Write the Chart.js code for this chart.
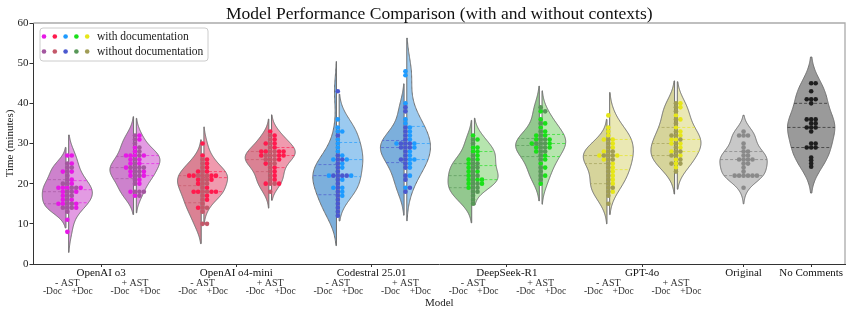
<!DOCTYPE html>
<html>
<head>
<meta charset="utf-8">
<script src="https://cdn.jsdelivr.net/npm/chart.js@4.4.1/dist/chart.umd.min.js"></script>
<style>
  html, body { margin: 0; padding: 0; background: #fff; }
  canvas { display: block; }
</style>
</head>
<body>
<canvas id="chart" width="851" height="314"></canvas>
<script>
// ---- data (minutes) ----
const models = ['OpenAI o3', 'OpenAI o4-mini', 'Codestral 25.01', 'DeepSeek-R1', 'GPT-4o'];
const astLabels = ['- AST', '+ AST'];
const docLabels = ['-Doc', '+Doc'];
const baselines = ['Original', 'No Comments'];
const yTicks = [0, 10, 20, 30, 40, 50, 60];

// without AST, without / with documentation (one entry per model)
const noAstNoDoc = [
  [25,24,24,23,22,21,20,20,19,19,18,18,17,17,16,15,15,14,14,14,13],
  [26,25,24,23,22,22,22,21,21,20,20,19,18,18,17,16,15,14,14,13,10,10],
  [43,32,27,26,26,25,24,23,22,22,22,22,21,20,19,18,17,16,15,14,13,12],
  [31,30,27,26,25,25,24,24,23,22,22,21,20,20,19,19,18,18,17,16,15],
  [31,30,29,28,28,27,27,27,26,26,25,24,23,22,21,20,19,19,18,17,15]
];
const noAstDoc = [
  [27,27,25,23,23,21,20,19,19,19,19,18,18,17,16,16,15,15,15,14,11,8],
  [30,27,26,25,24,23,23,22,22,22,22,21,21,20,19,18,18,18,18,17,16,14],
  [36,34,33,33,31,30,29,28,27,26,26,25,24,22,22,21,19,19,18,17],
  [32,31,29,29,28,28,27,26,26,25,24,23,23,22,21,21,21,20,20,19],
  [37,34,33,32,31,31,30,29,28,27,27,26,25,24,23,22,21,20,18]
];
// with AST, without / with documentation
const astNoDoc = [
  [32,31,30,29,28,27,26,25,24,24,24,24,23,23,22,22,21,20,18,18,18,17],
  [32,31,30,29,28,28,27,27,27,26,26,26,25,25,24,23,22,21,20,20,18],
  [39,38,34,33,32,31,30,30,30,29,29,29,28,27,26,26,25,24,22,21,19,18],
  [39,38,35,33,32,31,31,30,30,30,29,29,28,28,27,26,24,23,22,21],
  [40,39,38,36,35,33,32,32,31,30,29,28,28,27,27,26,25,25,23]
];
const astDoc = [
  [32,31,29,28,27,27,27,27,26,26,25,25,24,23,23,22,22,21,20,18,17],
  [33,32,31,30,30,29,28,28,28,28,27,27,27,26,25,24,23,22,21,20,20],
  [48,47,40,36,35,34,33,32,31,30,30,29,28,27,26,26,25,24,22,19],
  [38,36,35,34,33,32,32,31,31,30,30,29,29,28,27,26,25,24,22,20],
  [40,39,37,36,34,33,32,31,31,30,30,29,28,27,26,25,24]
];
const originalTimes = [33,32,32,32,30,29,28,28,27,27,26,26,26,26,25,25,24,23,22,22,22,22,22,22,19];
const noCommentsTimes = [45,45,43,41,41,41,40,36,36,36,35,35,34,34,34,33,30,30,29,29,29,26.5,25.8,25,24.2];

// ---- styles ----
const withColors = ['#e619e6', '#ff1a4d', '#1e9bff', '#19e019', '#e6e619'];
const withoutColors = ['#a3569f', '#c4586a', '#4a58cf', '#579757', '#a09c55'];
const leftFills = ['#cd82cd', '#da8294', '#7cafdc', '#93c88f', '#d6d49b'];
const rightFills = ['#e39be3', '#f09aae', '#9bcaf0', '#b6e5ae', '#eae8b4'];
const SERIF = '"Liberation Serif", "DejaVu Serif", serif';
const HALF_W = 0.35;   // max violin half width (x units)
const GAP = 0.02;      // gap between split halves
const DOT = 0.066;     // swarm spacing (x units)

// ---- violin specs ----
const violins = [];
const groups = []; // for swarm: {pos, parts:[{vals,color}]}
models.forEach((m, i) => {
  [[noAstNoDoc[i], noAstDoc[i]], [astNoDoc[i], astDoc[i]]].forEach((pair, j) => {
    const pos = 2 * i + j;
    violins.push({ pos, vals: pair[0], dir: -1, fill: leftFills[i], q: withoutColors[i] });
    violins.push({ pos, vals: pair[1], dir: 1, fill: rightFills[i], q: withColors[i] });
    groups.push({ pos, parts: [{ vals: pair[0], color: withoutColors[i] }, { vals: pair[1], color: withColors[i] }] });
  });
});
violins.push({ pos: 10, vals: originalTimes, dir: 0, fill: '#c8c8c8', q: '#7a7a7a' });
violins.push({ pos: 11, vals: noCommentsTimes, dir: 0, fill: '#9a9a9a', q: '#222222' });
groups.push({ pos: 10, parts: [{ vals: originalTimes, color: '#8a8a8a' }] });
groups.push({ pos: 11, parts: [{ vals: noCommentsTimes, color: '#1e1e1e' }] });

// ---- swarm layout ----
function swarm(group) {
  const rows = {};
  const maxLen = Math.max(...group.parts.map(p => p.vals.length));
  for (let k = 0; k < maxLen; k++) {
    group.parts.forEach((p, pi) => {
      if (k < p.vals.length) {
        const key = Math.round(p.vals[k]);
        (rows[key] = rows[key] || []).push({ v: p.vals[k], pi });
      }
    });
  }
  const out = group.parts.map(() => []);
  Object.values(rows).forEach(row => {
    row.forEach((pt, k) => {
      const off = k === 0 ? 0 : (k % 2 ? 1 : -1) * Math.ceil(k / 2) * DOT;
      out[pt.pi].push({ x: group.pos + off, y: pt.v });
    });
  });
  return out;
}

const datasets = [];
groups.forEach(g => {
  const pts = swarm(g);
  g.parts.forEach((p, pi) => {
    datasets.push({
      data: pts[pi],
      backgroundColor: p.color,
      borderWidth: 0,
      pointRadius: 2.3,
      pointHoverRadius: 2.3
    });
  });
});

// ---- kde helpers ----
function kde(vals) {
  const n = vals.length;
  const mean = vals.reduce((a, b) => a + b, 0) / n;
  const sd = Math.sqrt(vals.reduce((a, b) => a + (b - mean) ** 2, 0) / (n - 1));
  const bw = sd * Math.pow(n, -0.2);
  const lo = Math.min(...vals) - 2 * bw, hi = Math.max(...vals) + 2 * bw;
  const dens = t => vals.reduce((s, v) => s + Math.exp(-0.5 * ((t - v) / bw) ** 2), 0);
  const ys = [], ds = [];
  for (let k = 0; k <= 150; k++) {
    const t = lo + (hi - lo) * k / 150;
    ys.push(t); ds.push(dens(t));
  }
  return { ys, ds, max: Math.max(...ds), dens };
}
function quantile(vals, p) {
  const s = [...vals].sort((a, b) => a - b);
  const idx = (s.length - 1) * p, lo = Math.floor(idx), hi = Math.ceil(idx);
  return s[lo] + (s[hi] - s[lo]) * (idx - lo);
}

const violinPlugin = {
  id: 'violins',
  beforeDatasetsDraw(chart) {
    const { ctx, scales: { x, y } } = chart;
    ctx.save();
    violins.forEach(vl => {
      const k = kde(vl.vals);
      const w = d => d / k.max * HALF_W;
      ctx.beginPath();
      if (vl.dir === 0) {
        k.ys.forEach((t, i) => ctx.lineTo(x.getPixelForValue(vl.pos + w(k.ds[i])), y.getPixelForValue(t)));
        for (let i = k.ys.length - 1; i >= 0; i--) ctx.lineTo(x.getPixelForValue(vl.pos - w(k.ds[i])), y.getPixelForValue(k.ys[i]));
      } else {
        const base = vl.pos + vl.dir * GAP;
        ctx.moveTo(x.getPixelForValue(base), y.getPixelForValue(k.ys[0]));
        k.ys.forEach((t, i) => ctx.lineTo(x.getPixelForValue(base + vl.dir * w(k.ds[i])), y.getPixelForValue(t)));
        ctx.lineTo(x.getPixelForValue(base), y.getPixelForValue(k.ys[k.ys.length - 1]));
      }
      ctx.closePath();
      ctx.fillStyle = vl.fill;
      ctx.fill();
      ctx.lineWidth = 1;
      ctx.strokeStyle = '#6e6e6e';
      ctx.stroke();
      // quartile lines
      ctx.setLineDash([3, 2]);
      ctx.strokeStyle = vl.q;
      ctx.globalAlpha = 0.65;
      [0.25, 0.5, 0.75].forEach(p => {
        const q = quantile(vl.vals, p);
        const ww = w(k.dens(q));
        const py = y.getPixelForValue(q);
        ctx.beginPath();
        if (vl.dir === 0) {
          ctx.moveTo(x.getPixelForValue(vl.pos - ww), py);
          ctx.lineTo(x.getPixelForValue(vl.pos + ww), py);
        } else {
          const base = vl.pos + vl.dir * GAP;
          ctx.moveTo(x.getPixelForValue(base), py);
          ctx.lineTo(x.getPixelForValue(base + vl.dir * ww), py);
        }
        ctx.stroke();
      });
      ctx.setLineDash([]);
      ctx.globalAlpha = 1;
    });
    ctx.restore();
  }
};

const textPlugin = {
  id: 'texts',
  afterDraw(chart) {
    const { ctx, chartArea: a, scales: { x } } = chart;
    ctx.save();
    // frame top/right
    ctx.strokeStyle = '#aaaaaa';
    ctx.lineWidth = 1.3;
    ctx.beginPath();
    ctx.moveTo(a.left, a.top); ctx.lineTo(a.right, a.top); ctx.lineTo(a.right, a.bottom);
    ctx.stroke();
    ctx.fillStyle = '#111';
    ctx.textAlign = 'center';
    // title
    ctx.font = '17.5px ' + SERIF;
    ctx.textBaseline = 'alphabetic';
    ctx.fillText('Model Performance Comparison (with and without contexts)', (a.left + a.right) / 2, 18.5);
    ctx.textBaseline = 'middle';
    // x labels
    ctx.font = '11px ' + SERIF;
    models.forEach((m, i) => ctx.fillText(m, x.getPixelForValue(2 * i + 0.5), 273));
    baselines.forEach((m, i) => ctx.fillText(m, x.getPixelForValue(10 + i), 273));
    ctx.fillStyle = '#333';
    models.forEach((m, i) => {
      astLabels.forEach((s, j) => {
        const p = 2 * i + j;
        ctx.font = '10px ' + SERIF;
        ctx.fillText(s, x.getPixelForValue(p), 283);
        ctx.font = '9.5px ' + SERIF;
        docLabels.forEach((d, k) => ctx.fillText(d, x.getPixelForValue(p + (k ? 0.22 : -0.22)), 291.5));
      });
    });
    ctx.fillStyle = '#222';
    ctx.font = '11px ' + SERIF;
    ctx.fillText('Model', (a.left + a.right) / 2, 303);
    // y title
    ctx.save();
    ctx.translate(10.5, (a.top + a.bottom) / 2);
    ctx.rotate(-Math.PI / 2);
    ctx.fillText('Time (minutes)', 0, 0);
    ctx.restore();
    // legend
    const lx = 40, ly = 28;
    ctx.fillStyle = 'rgba(255,255,255,0.85)';
    ctx.strokeStyle = '#cccccc';
    ctx.lineWidth = 1;
    ctx.beginPath();
    ctx.roundRect(lx, ly, 168, 33, 3);
    ctx.fill(); ctx.stroke();
    [withColors, withoutColors].forEach((cols, r) => {
      cols.forEach((c, i) => {
        ctx.fillStyle = c;
        ctx.beginPath();
        ctx.arc(lx + 4 + i * 10.8, ly + 8.5 + r * 15, 2.3, 0, Math.PI * 2);
        ctx.fill();
      });
      ctx.fillStyle = '#222';
      ctx.textAlign = 'left';
      ctx.font = '11.5px ' + SERIF;
      ctx.fillText(r ? 'without documentation' : 'with documentation', lx + 57, ly + 8.5 + r * 15);
    });
    ctx.restore();
  }
};

new Chart(document.getElementById('chart'), {
  type: 'scatter',
  data: { datasets },
  options: {
    responsive: false,
    animation: false,
    devicePixelRatio: 1,
    layout: { padding: { top: 23, right: 6, left: 0, bottom: 0 } },
    plugins: { legend: { display: false }, tooltip: { enabled: false } },
    scales: {
      x: {
        type: 'linear', min: -0.5, max: 11.5,
        afterBuildTicks: s => { s.ticks = [0.5, 2.5, 4.5, 6.5, 8.5, 10, 11].map(v => ({ value: v })); },
        afterFit: s => { s.height = 50; },
        ticks: { display: false },
        grid: { display: true, drawOnChartArea: false, drawTicks: true, tickLength: 3, color: '#333' },
        border: { display: true, color: '#333', width: 1 }
      },
      y: {
        min: 0, max: 60,
        afterBuildTicks: s => { s.ticks = yTicks.map(v => ({ value: v })); },
        afterFit: s => { s.width = 33.5; },
        ticks: { color: '#222', font: { family: SERIF, size: 11 }, padding: 1 },
        grid: { display: true, drawOnChartArea: false, drawTicks: true, tickLength: 4, color: '#333' },
        border: { display: true, color: '#333', width: 1 }
      }
    }
  },
  plugins: [violinPlugin, textPlugin]
});
</script>
</body>
</html>
